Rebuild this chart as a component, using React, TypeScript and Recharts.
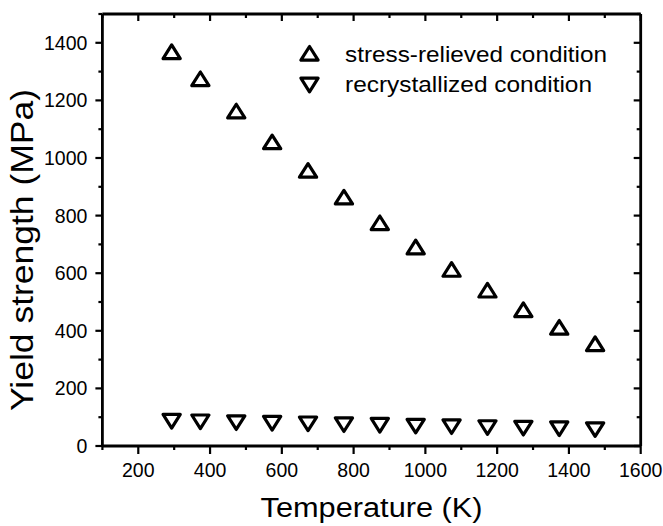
import React from 'react';
import { ScatterChart, Scatter, XAxis, YAxis, Legend } from 'recharts';

const temperatures = [293, 373, 473, 573, 673, 773, 873, 973, 1073, 1173, 1273, 1373, 1473];
const stressRelieved = [1369, 1275, 1163, 1056, 957, 864, 775, 691, 613, 541, 473, 412, 355];
const recrystallized = [86, 84, 81, 79, 77, 74, 72, 69, 67, 64, 62, 60, 57];
const seriesNames = ['stress-relieved condition', 'recrystallized condition'];

const xMajorTicks = [200, 400, 600, 800, 1000, 1200, 1400, 1600];
const xMinorTicks = [100, 300, 500, 700, 900, 1100, 1300, 1500];
const yMajorTicks = [0, 200, 400, 600, 800, 1000, 1200, 1400];
const yMinorTicks = [100, 300, 500, 700, 900, 1100, 1300, 1500];
const xDomain = [100, 1600];
const yDomain = [0, 1500];
const xTitle = 'Temperature (K)';
const yTitle = 'Yield strength (MPa)';

const srData = temperatures.map((t, i) => ({ t, v: stressRelieved[i] }));
const rcData = temperatures.map((t, i) => ({ t, v: recrystallized[i] }));

const FONT = '"Liberation Sans", Arial, sans-serif';
const TRI_W = 17.2;
const TRI_H = 13.6;
const TRI_SW = 3.2;
const TEXT = '#000';

const Tri = ({ cx, cy, up }: { cx: number; cy: number; up: boolean }) => {
  const h = TRI_H / 2;
  const w = TRI_W / 2;
  const pts = up
    ? `${cx},${cy - h} ${cx - w},${cy + h} ${cx + w},${cy + h}`
    : `${cx},${cy + h} ${cx - w},${cy - h} ${cx + w},${cy - h}`;
  return <polygon points={pts} fill="none" stroke="#000" strokeWidth={TRI_SW} strokeLinejoin="round" />;
};

const isMajor = (v: number, majors: number[]) => majors.includes(v);

const BottomTick = (props: any) => {
  const { x, y, payload } = props;
  const major = isMajor(payload.value, xMajorTicks);
  return (
    <g>
      <line x1={x} y1={y} x2={x} y2={y + (major ? 8 : 4)} stroke="#000" strokeWidth={2.2} />
      {major && (
        <text x={x} y={y + 30.7} textAnchor="middle" fontFamily={FONT} fontSize={19.5} fill={TEXT}>
          {payload.value}
        </text>
      )}
    </g>
  );
};

const TopTick = (props: any) => {
  const { x, y, payload } = props;
  const major = isMajor(payload.value, xMajorTicks);
  return <line x1={x} y1={y} x2={x} y2={y + (major ? 7 : 4)} stroke="#000" strokeWidth={2.2} />;
};

const LeftTick = (props: any) => {
  const { x, y, payload } = props;
  const major = isMajor(payload.value, yMajorTicks);
  return (
    <g>
      <line x1={x - (major ? 7 : 4)} y1={y} x2={x} y2={y} stroke="#000" strokeWidth={2.2} />
      {major && (
        <text x={x - 15} y={y + 7} textAnchor="end" fontFamily={FONT} fontSize={19.5} fill={TEXT}>
          {payload.value}
        </text>
      )}
    </g>
  );
};

const RightTick = (props: any) => {
  const { x, y, payload } = props;
  const major = isMajor(payload.value, yMajorTicks);
  return <line x1={x - (major ? 7 : 4)} y1={y} x2={x} y2={y} stroke="#000" strokeWidth={2.2} />;
};

const XTitle = (props: any) => {
  const vb = props.viewBox;
  return (
    <text
      x={vb.x + vb.width / 2}
      y={vb.y + 70.7}
      textAnchor="middle"
      fontFamily={FONT}
      fontSize={27}
      fill={TEXT}
      textLength={222}
      lengthAdjust="spacingAndGlyphs"
    >
      {xTitle}
    </text>
  );
};

const YTitle = (props: any) => {
  const vb = props.viewBox;
  const cx = 33;
  const cy = vb.y + vb.height / 2 + 20;
  return (
    <text
      x={cx}
      y={cy}
      transform={`rotate(-90 ${cx} ${cy})`}
      textAnchor="middle"
      fontFamily={FONT}
      fontSize={32}
      fill={TEXT}
      textLength={322}
      lengthAdjust="spacingAndGlyphs"
    >
      {yTitle}
    </text>
  );
};

const legendLengths = [262, 247];

const LegendContent = (props: any) => {
  const payload = props.payload || [];
  return (
    <svg width={340} height={80} style={{ overflow: 'visible' }}>
      {payload.map((entry: any, k: number) => {
        const idx = seriesNames.indexOf(entry.value);
        const i = idx >= 0 ? idx : k;
        return (
          <g key={k}>
            <Tri cx={14.5} cy={i === 0 ? 18.3 : 50} up={i === 0} />
            <text
              x={50}
              y={i === 0 ? 26.7 : 56.7}
              fontFamily={FONT}
              fontSize={22}
              fill={TEXT}
              textLength={legendLengths[i]}
              lengthAdjust="spacingAndGlyphs"
            >
              {entry.value}
            </text>
          </g>
        );
      })}
    </svg>
  );
};

const allXTicks = [...xMinorTicks, ...xMajorTicks].sort((a, b) => a - b);
const allYTicks = [...yMinorTicks, ...yMajorTicks].sort((a, b) => a - b);

export default function App() {
  return (
    <div style={{ position: 'absolute', left: 0, top: 0, width: 663, height: 526, background: '#fff' }}>
      <ScatterChart width={663} height={526} margin={{ top: 13, right: 21.3, bottom: 0, left: 0 }}>
        <XAxis
          xAxisId={0}
          type="number"
          dataKey="t"
          domain={xDomain}
          ticks={allXTicks}
          interval={0}
          height={80}
          tickSize={0}
          tickMargin={0}
          tickLine={false}
          axisLine={{ stroke: '#000', strokeWidth: 2.8 }}
          tick={<BottomTick />}
          allowDataOverflow
          label={<XTitle />}
        />
        <XAxis
          xAxisId="top"
          orientation="top"
          type="number"
          dataKey="t"
          domain={xDomain}
          ticks={allXTicks}
          interval={0}
          height={1}
          tickSize={0}
          tickMargin={0}
          tickLine={false}
          axisLine={{ stroke: '#000', strokeWidth: 2.8 }}
          tick={<TopTick />}
          allowDataOverflow
        />
        <YAxis
          yAxisId={0}
          type="number"
          dataKey="v"
          domain={yDomain}
          ticks={allYTicks}
          interval={0}
          width={102.4}
          tickSize={0}
          tickMargin={0}
          tickLine={false}
          axisLine={{ stroke: '#000', strokeWidth: 2.8 }}
          tick={<LeftTick />}
          allowDataOverflow
          label={<YTitle />}
        />
        <YAxis
          yAxisId="right"
          orientation="right"
          type="number"
          dataKey="v"
          domain={yDomain}
          ticks={allYTicks}
          interval={0}
          width={1}
          tickSize={0}
          tickMargin={0}
          tickLine={false}
          axisLine={{ stroke: '#000', strokeWidth: 2.8 }}
          tick={<RightTick />}
          allowDataOverflow
        />
        <Legend
          layout="horizontal"
          verticalAlign="middle"
          align="center"
          content={<LegendContent />}
          wrapperStyle={{ position: 'absolute', left: 295, top: 35, width: 340, height: 80 }}
        />
        <Scatter
          name={seriesNames[0]}
          data={srData}
          xAxisId={0}
          yAxisId={0}
          isAnimationActive={false}
          fill="#000"
          shape={(p: any) => <Tri cx={p.cx} cy={p.cy} up={true} />}
        />
        <Scatter
          name={seriesNames[1]}
          data={rcData}
          xAxisId={0}
          yAxisId={0}
          isAnimationActive={false}
          fill="#000"
          shape={(p: any) => <Tri cx={p.cx} cy={p.cy} up={false} />}
        />
      </ScatterChart>
    </div>
  );
}
